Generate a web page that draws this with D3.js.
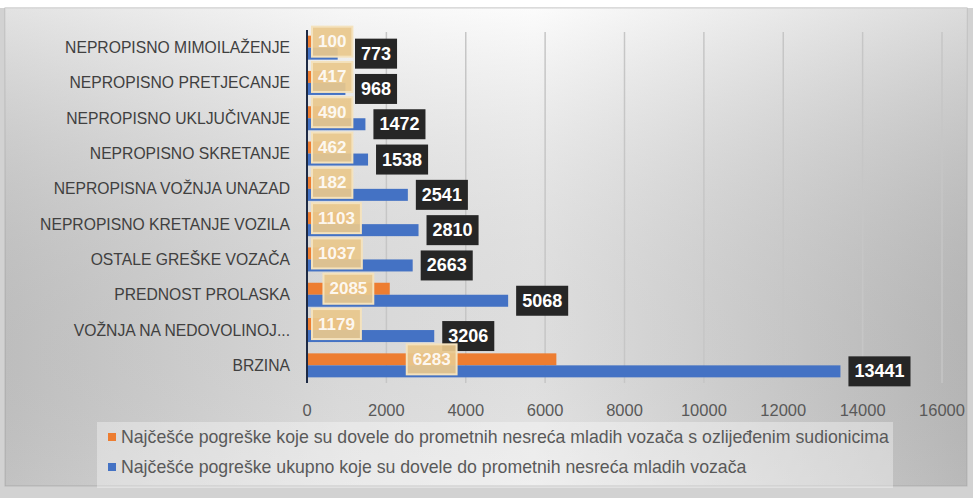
<!DOCTYPE html>
<html>
<head>
<meta charset="utf-8">
<script src="https://cdn.jsdelivr.net/npm/d3@7"></script>
<style>
  body { margin: 0; background: #ffffff; }
  svg { display: block; }
  text { font-family: "Liberation Sans", Arial, sans-serif; }
</style>
</head>
<body>
<div id="chart"></div>
<script>
// data, top row first
const categories = [
    "NEPROPISNO MIMOILAŽENJE",
    "NEPROPISNO PRETJECANJE",
    "NEPROPISNO UKLJUČIVANJE",
    "NEPROPISNO SKRETANJE",
    "NEPROPISNA VOŽNJA UNAZAD",
    "NEPROPISNO KRETANJE VOZILA",
    "OSTALE GREŠKE VOZAČA",
    "PREDNOST PROLASKA",
    "VOŽNJA NA NEDOVOLINOJ...",
    "BRZINA"
];
const injured = [100, 417, 490, 462, 182, 1103, 1037, 2085, 1179, 6283];
const total = [773, 968, 1472, 1538, 2541, 2810, 2663, 5068, 3206, 13441];
const xTicks = [0, 2000, 4000, 6000, 8000, 10000, 12000, 14000, 16000];
const seriesNames = [
    "Najčešće pogreške koje su dovele do prometnih nesreća mladih vozača s ozlijeđenim sudionicima",
    "Najčešće pogreške ukupno koje su dovele do prometnih nesreća mladih vozača"
];

//constants
const width = 973;
const height = 498;
const orange = "#ed7d31";
const blue = "#4472c4";
const plot = {left: 307, right: 942, top: 30, bottom: 383};

const svg = d3.select("#chart")
    .append("svg")
    .attr("width", width)
    .attr("height", height);

// background: grey card with a soft horizontal gradient
const defs = svg.append("defs");
const bg = defs.append("linearGradient")
    .attr("id", "bg")
    .attr("x1", "0%").attr("x2", "100%")
    .attr("y1", "0%").attr("y2", "0%");
bg.append("stop").attr("offset", "0%").attr("stop-color", "#d3d3d3");
bg.append("stop").attr("offset", "35%").attr("stop-color", "#f2f2f2");
bg.append("stop").attr("offset", "55%").attr("stop-color", "#fafafa");
bg.append("stop").attr("offset", "100%").attr("stop-color", "#c9c9c9");

const shade = defs.append("linearGradient")
    .attr("id", "shade")
    .attr("x1", "0%").attr("x2", "0%")
    .attr("y1", "0%").attr("y2", "100%");
shade.append("stop").attr("offset", "0%").attr("stop-color", "#ffffff").attr("stop-opacity", 0.35);
shade.append("stop").attr("offset", "100%").attr("stop-color", "#000000").attr("stop-opacity", 0.08);

svg.append("rect")
    .attr("width", width)
    .attr("height", height)
    .style("fill", "#d2d2d2");
svg.append("rect")
    .attr("width", width)
    .attr("height", 8)
    .style("fill", "#ffffff");
svg.append("rect")
    .attr("x", 5).attr("y", 8)
    .attr("width", 962).attr("height", 478)
    .style("fill", "url(#bg)")
    .style("stroke", "#b8b8b8")
    .style("stroke-width", 1);
svg.append("rect")
    .attr("x", 5).attr("y", 8)
    .attr("width", 962).attr("height", 478)
    .style("fill", "url(#shade)");

// scales
const x = d3.scaleLinear()
    .domain([0, 16000])
    .range([plot.left, plot.right]);

const y = d3.scaleBand()
    .domain(categories)
    .range([plot.top, plot.bottom])
    .paddingInner(0.32)
    .paddingOuter(0.16);

const ySub = d3.scaleBand()
    .domain([0, 1])
    .range([0, y.bandwidth()]);

// gridlines
svg.append("g")
    .selectAll("line")
    .data(xTicks.slice(1))
    .enter()
    .append("line")
    .attr("x1", d => x(d)).attr("x2", d => x(d))
    .attr("y1", plot.top + 2).attr("y2", plot.bottom)
    .style("stroke", "#c6c6c6")
    .style("stroke-width", 1.5);

// x tick labels
svg.append("g")
    .selectAll("text")
    .data(xTicks)
    .enter()
    .append("text")
    .attr("x", d => x(d))
    .attr("y", 410)
    .attr("text-anchor", "middle")
    .attr("dominant-baseline", "central")
    .style("font-size", "16.5px")
    .style("fill", "#595959")
    .text(d => d);

// category labels
svg.append("g")
    .selectAll("text")
    .data(categories)
    .enter()
    .append("text")
    .attr("x", 290)
    .attr("y", d => y(d) + y.bandwidth() / 2)
    .attr("text-anchor", "end")
    .attr("dominant-baseline", "central")
    .style("font-size", "15.7px")
    .style("fill", "#404040")
    .text(d => d);

// bars
const rows = categories.map((c, i) => ({cat: c, injured: injured[i], total: total[i]}));

svg.append("g")
    .selectAll("rect")
    .data(rows)
    .enter()
    .append("rect")
    .attr("x", x(0))
    .attr("y", d => y(d.cat) + ySub(0))
    .attr("width", d => x(d.injured) - x(0))
    .attr("height", ySub.bandwidth())
    .style("fill", orange);

svg.append("g")
    .selectAll("rect")
    .data(rows)
    .enter()
    .append("rect")
    .attr("x", x(0))
    .attr("y", d => y(d.cat) + ySub(1))
    .attr("width", d => x(d.total) - x(0))
    .attr("height", ySub.bandwidth())
    .style("fill", blue);

// category axis line
svg.append("line")
    .attr("x1", x(0)).attr("x2", x(0))
    .attr("y1", plot.top).attr("y2", plot.bottom)
    .style("stroke", "#1e2a44")
    .style("stroke-width", 2);

// dark labels for the totals, just past the bar end
const darkLabels = svg.append("g")
    .selectAll("g")
    .data(rows)
    .enter()
    .append("g")
    .attr("transform", d => {
        const left = Math.max(x(d.total) + 8, 355);
        return "translate(" + left + "," + (y(d.cat) + ySub(1) + ySub.bandwidth() / 2) + ")";
    });

darkLabels.append("text")
    .attr("x", 6)
    .attr("dominant-baseline", "central")
    .style("font-size", "18px")
    .style("font-weight", "bold")
    .style("fill", "#ffffff")
    .text(d => d.total);

darkLabels.each(function() {
    const g = d3.select(this);
    const w = g.select("text").node().getComputedTextLength();
    g.insert("rect", "text")
        .attr("x", 0)
        .attr("y", -15)
        .attr("width", w + 12)
        .attr("height", 30)
        .style("fill", "#262626");
});

// tan labels for injured series, centred on the bar but kept inside the plot
const tanLabels = svg.append("g")
    .selectAll("g")
    .data(rows)
    .enter()
    .append("g");

tanLabels.append("text")
    .attr("text-anchor", "middle")
    .attr("dominant-baseline", "central")
    .style("font-size", "17px")
    .style("font-weight", "bold")
    .style("fill", "#ffffff")
    .style("fill-opacity", 0.9)
    .text(d => d.injured);

tanLabels.each(function(d) {
    const g = d3.select(this);
    const w = g.select("text").node().getComputedTextLength() + 12;
    const cx = Math.max((x(0) + x(d.injured)) / 2, x(0) + 5 + w / 2);
    const cy = y(d.cat) + ySub(0) + ySub.bandwidth() / 2;
    g.attr("transform", "translate(" + cx + "," + cy + ")");
    g.insert("rect", "text")
        .attr("x", -w / 2)
        .attr("y", -15)
        .attr("width", w)
        .attr("height", 30)
        .style("fill", "#e9c88c")
        .style("fill-opacity", 0.92)
        .style("stroke", "#f4e2bd")
        .style("stroke-width", 2);
});

// legend
svg.append("rect")
    .attr("x", 97).attr("y", 422)
    .attr("width", 796).attr("height", 66)
    .style("fill", "#ffffff")
    .style("fill-opacity", 0.35);

const legend = svg.append("g")
    .selectAll("g")
    .data(seriesNames)
    .enter()
    .append("g")
    .attr("transform", (d, i) => "translate(108," + (437 + i * 30) + ")");

legend.append("rect")
    .attr("x", 0).attr("y", -4)
    .attr("width", 8).attr("height", 8)
    .style("fill", (d, i) => i == 0 ? orange : blue);

legend.append("text")
    .attr("x", 13)
    .attr("dominant-baseline", "central")
    .style("font-size", "17.7px")
    .style("fill", "#595959")
    .text(d => d);
</script>
</body>
</html>
